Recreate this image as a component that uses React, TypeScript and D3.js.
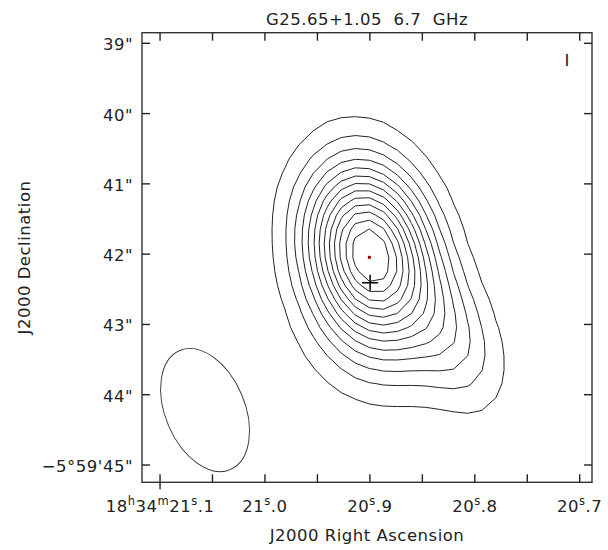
import React, { useEffect, useRef } from 'react';
import * as d3 from 'd3';

const W = 608;
const H = 550;
// plot frame in page pixels
const frame = { left: 142, right: 592, top: 32.7, bottom: 482.3 };

// RA seconds (of 18h34m) and Dec arcsec (of -5°59') at the frame edges
const raDomain = [21.1172, 20.6883];
const decDomain = [38.849, 45.246];

// source model: gaussian components (FWHM in arcsec, PA in deg E of N)
const compRa = [20.9008, 20.8855, 20.8235];
const compDec = [41.984, 43.293, 43.151];
const compAmp = [1.0, 0.08, 0.19];
const compMaj = [2.01, 1.843, 1.843];
const compMin = [1.374, 1.508, 1.005];
const compPa = [12, 90, 25];

// map pixel size (arcsec), contour levels (fraction of peak)
const pixelSize = 0.2;
const levels = [0.071, 0.143, 0.214, 0.286, 0.357, 0.429, 0.5, 0.571, 0.643, 0.714, 0.786, 0.857, 0.929];

// peak (red dot) and cross
const peakRa = 20.9005;
const peakDec = 42.045;
const crossRa = 20.8998;
const crossDec = 42.406;

// restoring beam
const beamRa = 21.0571;
const beamDec = 44.218;
const beamMaj = 1.84;
const beamMin = 1.13;
const beamPa = 23;

// ticks
const raTicks = [21.1, 21.05, 21.0, 20.95, 20.9, 20.85, 20.8, 20.75, 20.7];
const raLabelTicks = [21.1, 21.0, 20.9, 20.8, 20.7];
const raLabels = ['18^h34^m21^s.1', '21^s.0', '20^s.9', '20^s.8', '20^s.7'];
const decTicks = [39, 40, 41, 42, 43, 44, 45];
const decLabels = ['39"', '40"', '41"', '42"', '43"', '44"', '\u22125\u00b059\'45"'];

const FONT = "'DejaVu Sans', sans-serif";

const App = () => {
  const svgRef = useRef<SVGSVGElement>(null);

  useEffect(() => {
    const svg = d3.select(svgRef.current);
    svg.selectAll('*').remove();

    const xScale = d3.scaleLinear().domain(raDomain).range([frame.left, frame.right]);
    const yScale = d3.scaleLinear().domain(decDomain).range([frame.top, frame.bottom]);
    const pxPerArcsec = (frame.bottom - frame.top) / (decDomain[1] - decDomain[0]);

    /* model grid -------------------------------*/
    const cell = pixelSize * pxPerArcsec;
    const px0 = xScale(peakRa);
    const py0 = yScale(peakDec);
    const nl = Math.ceil((px0 - frame.left) / cell) + 2;
    const nt = Math.ceil((py0 - frame.top) / cell) + 2;
    const nx = nl + Math.ceil((frame.right - px0) / cell) + 3;
    const ny = nt + Math.ceil((frame.bottom - py0) / cell) + 3;
    const x0 = px0 - (nl + 0.5) * cell;
    const y0 = py0 - (nt + 0.5) * cell;

    const comps = compRa.map((ra, i) => ({
      cx: xScale(ra),
      cy: yScale(compDec[i]),
      amp: compAmp[i],
      sMaj: (compMaj[i] / 2.3548) * pxPerArcsec,
      sMin: (compMin[i] / 2.3548) * pxPerArcsec,
      pa: (compPa[i] * Math.PI) / 180,
    }));

    const values: number[] = new Array(nx * ny);
    for (let j = 0; j < ny; j++) {
      for (let i = 0; i < nx; i++) {
        const x = x0 + (i + 0.5) * cell;
        const y = y0 + (j + 0.5) * cell;
        let v = 0;
        comps.forEach((c) => {
          const dx = x - c.cx;
          const dy = y - c.cy;
          const u = -dx * Math.sin(c.pa) - dy * Math.cos(c.pa);
          const w = dx * Math.cos(c.pa) - dy * Math.sin(c.pa);
          v += c.amp * Math.exp(-(u * u) / (2 * c.sMaj * c.sMaj) - (w * w) / (2 * c.sMin * c.sMin));
        });
        values[j * nx + i] = v;
      }
    }

    const contours = d3.contours().size([nx, ny]).thresholds(levels)(values);
    const path = d3.geoPath(d3.geoIdentity().scale(cell).translate([x0, y0]));

    svg
      .append('clipPath')
      .attr('id', 'frame-clip')
      .append('rect')
      .attr('x', frame.left)
      .attr('y', frame.top)
      .attr('width', frame.right - frame.left)
      .attr('height', frame.bottom - frame.top);

    svg
      .append('g')
      .attr('clip-path', 'url(#frame-clip)')
      .selectAll('path')
      .data(contours)
      .join('path')
      .attr('d', (d) => path(d as any))
      .attr('fill', 'none')
      .attr('stroke', '#222')
      .attr('stroke-width', 1);

    /* beam -------------------------------*/
    svg
      .append('ellipse')
      .attr('cx', xScale(beamRa))
      .attr('cy', yScale(beamDec))
      .attr('rx', (beamMin / 2) * pxPerArcsec)
      .attr('ry', (beamMaj / 2) * pxPerArcsec)
      .attr('transform', `rotate(${-beamPa}, ${xScale(beamRa)}, ${yScale(beamDec)})`)
      .attr('fill', 'none')
      .attr('stroke', '#333')
      .attr('stroke-width', 0.9);

    /* peak + cross -------------------------------*/
    svg
      .append('rect')
      .attr('x', xScale(peakRa) - 1.5)
      .attr('y', yScale(peakDec) - 1.5)
      .attr('width', 3)
      .attr('height', 3)
      .attr('fill', '#a00000');

    const cx = xScale(crossRa);
    const cy = yScale(crossDec);
    svg
      .append('path')
      .attr('d', `M${cx - 8},${cy}H${cx + 8}M${cx},${cy - 8}V${cy + 8}`)
      .attr('stroke', '#000')
      .attr('stroke-width', 1.5);

    /* frame + ticks -------------------------------*/
    svg
      .append('rect')
      .attr('x', frame.left)
      .attr('y', frame.top)
      .attr('width', frame.right - frame.left)
      .attr('height', frame.bottom - frame.top)
      .attr('fill', 'none')
      .attr('stroke', '#333')
      .attr('stroke-width', 1.4);

    const tk = 8;
    const ticks = svg.append('g').attr('stroke', '#222').attr('stroke-width', 1.4);
    raTicks.forEach((t, i) => {
      const x = xScale(t);
      ticks.append('line').attr('x1', x).attr('x2', x).attr('y1', frame.top).attr('y2', frame.top + tk);
      ticks
        .append('line')
        .attr('x1', x)
        .attr('x2', x)
        .attr('y1', i === 0 ? frame.bottom + 7 : frame.bottom)
        .attr('y2', frame.bottom - tk);
    });
    decTicks.forEach((t) => {
      const y = yScale(t);
      ticks.append('line').attr('x1', frame.left).attr('x2', frame.left + tk).attr('y1', y).attr('y2', y);
      ticks.append('line').attr('x1', frame.right).attr('x2', frame.right - tk).attr('y1', y).attr('y2', y);
    });

    /* labels -------------------------------*/
    const txt = svg.append('g').attr('font-family', FONT).attr('font-size', 16.5).attr('fill', '#222');

    decTicks.forEach((t, i) => {
      txt
        .append('text')
        .attr('x', 133)
        .attr('y', yScale(t) + 7)
        .attr('text-anchor', 'end')
        .attr('letter-spacing', 0.5)
        .text(decLabels[i]);
    });

    raLabelTicks.forEach((t, i) => {
      const el = txt
        .append('text')
        .attr('x', xScale(t))
        .attr('y', 512)
        .attr('text-anchor', 'middle')
        .attr('letter-spacing', 0.5);
      const parts = raLabels[i].split('^');
      parts.forEach((p, k) => {
        if (k === 0) {
          el.append('tspan').text(p);
        } else {
          el.append('tspan').attr('dy', -7).attr('font-size', 11.5).text(p[0]);
          el.append('tspan').attr('dy', 7).text(p.slice(1));
        }
      });
    });

    txt
      .append('text')
      .attr('x', (frame.left + frame.right) / 2)
      .attr('y', 25)
      .attr('text-anchor', 'middle')
      .attr('letter-spacing', 0.5)
      .style('white-space', 'pre')
      .text('G25.65+1.05  6.7  GHz');

    txt
      .append('text')
      .attr('x', (frame.left + frame.right) / 2)
      .attr('y', 541)
      .attr('text-anchor', 'middle')
      .attr('letter-spacing', 0.5)
      .text('J2000 Right Ascension');

    txt
      .append('text')
      .attr('transform', `translate(30, ${(frame.top + frame.bottom) / 2}) rotate(-90)`)
      .attr('text-anchor', 'middle')
      .attr('letter-spacing', 0.5)
      .text('J2000 Declination');

    txt.append('text').attr('x', 567).attr('y', 66).attr('text-anchor', 'middle').text('I');
  }, []);

  return (
    <svg
      ref={svgRef}
      width={W}
      height={H}
      style={{ position: 'absolute', left: 0, top: 0, background: '#fff' }}
    />
  );
};

export default App;
